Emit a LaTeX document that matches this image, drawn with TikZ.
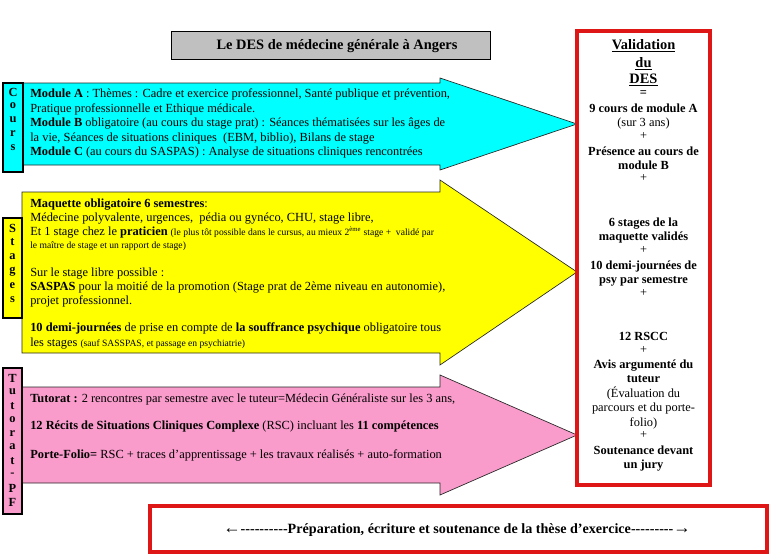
\documentclass[tikz,border=0pt]{standalone}
\usepackage{fontspec}
\setmainfont{Liberation Serif}
\definecolor{cyanA}{RGB}{0,255,255}
\definecolor{yelA}{RGB}{255,255,0}
\definecolor{pinkA}{RGB}{249,155,203}
\definecolor{redA}{RGB}{222,22,22}
\definecolor{grayA}{RGB}{192,192,192}
\newcommand{\nf}{\fontsize{9.3}{11}\selectfont}
\newcommand{\sm}{\fontsize{7.2}{9}\selectfont}
\newcommand{\hy}{-{}}
\begin{document}
\begin{tikzpicture}[x=0.75pt,y=-0.75pt,
  arrowshape/.style={draw=black!85, line width=0.5pt},
  labbox/.style={draw=black, line width=0.8pt},
  lett/.style={inner sep=0pt, font=\bfseries\nf},
  txt/.style={anchor=base west, inner sep=0pt, font=\nf},
  val/.style={anchor=base, inner sep=0pt, font=\bfseries\nf},
  valt/.style={anchor=base, inner sep=0pt, font=\bfseries\fontsize{10.8}{12}\selectfont},
  redbox/.style={draw=redA, line width=3pt}]
\useasboundingbox (0,0) rectangle (783,557);

% title
\draw[fill=grayA, draw=black, line width=0.6pt] (171,31) rectangle (490,59);
\node[anchor=base, inner sep=0pt, font=\bfseries\fontsize{10.8}{12}\selectfont] (title) at (337,49) {Le DES de médecine générale à Angers};

% arrows
\draw[arrowshape, fill=cyanA] (22,83) -- (440,83) -- (440,78) -- (577,124) -- (440,170) -- (440,165) -- (22,165) -- cycle;
\draw[arrowshape, fill=yelA] (22,192) -- (440,192) -- (440,180) -- (577,272) -- (440,365) -- (440,353) -- (22,353) -- cycle;
\draw[arrowshape, fill=pinkA] (22,387) -- (440,387) -- (440,375) -- (577,435) -- (440,495) -- (440,483) -- (22,483) -- cycle;

% side labels
\draw[labbox, fill=cyanA] (3,83) rectangle (23,172);
\foreach \l [count=\i from 0] in {C,o,u,r,s}
  \node[lett] (cl\i) at (13,{92+14*\i}) {\l};
\draw[labbox, fill=yelA] (3,218) rectangle (22,318);
\foreach \l [count=\i from 0] in {S,t,a,g,e,s}
  \node[lett] (sl\i) at (12.5,{228+14.4*\i}) {\l};
\draw[labbox, fill=pinkA] (3,368) rectangle (22,514);
\foreach \l [count=\i from 0] in {T,u,t,o,r,a,t,-,P,F}
  \node[lett] (tl\i) at (12.5,{378+13.8*\i}) {\l};

% cyan text
\node[txt] (c1) at (30,97.5) {\textbf{Module A} : Thèmes : Cadre et exercice professionnel, Santé publique et prévention,};
\node[txt] (c2) at (30,112) {Pratique professionnelle et Ethique médicale.};
\node[txt] (c3) at (30,126.5) {\textbf{Module B} obligatoire (au cours du stage prat) : Séances thématisées sur les âges de};
\node[txt] (c4) at (30,141) {la vie, Séances de situations cliniques\ \ (EBM, biblio), Bilans de stage};
\node[txt] (c5) at (30,155.5) {\textbf{Module C} (au cours du SASPAS) : Analyse de situations cliniques rencontrées};

% yellow text
\node[txt] (y1) at (30,207.5) {\textbf{Maquette obligatoire 6 semestres}:};
\node[txt] (y2) at (30,221.5) {Médecine polyvalente, urgences,\ \ pédia ou gynéco, CHU, stage libre,};
\node[txt] (y3) at (30,235.5) {Et 1 stage chez le \textbf{praticien} {\sm(le plus tôt possible dans le cursus, au mieux 2\textsuperscript{ème} stage +\ \ validé par}};
\node[txt, font=\sm] (y4) at (30,248.5) {le maître de stage et un rapport de stage)};
\node[txt] (y5) at (30,276.5) {Sur le stage libre possible :};
\node[txt] (y6) at (30,290.5) {\textbf{SASPAS} pour la moitié de la promotion (Stage prat de 2ème niveau en autonomie),};
\node[txt] (y7) at (30,304.5) {projet professionnel.};
\node[txt] (y8) at (30,331.5) {\textbf{10 demi-journées} de prise en compte de \textbf{la souffrance psychique} obligatoire tous};
\node[txt] (y9) at (30,346.5) {les stages {\sm(sauf SASSPAS, et passage en psychiatrie)}};

% pink text
\node[txt] (p1) at (30,402.5) {\textbf{Tutorat :} 2 rencontres par semestre avec le tuteur=Médecin Généraliste sur les 3 ans,};
\node[txt] (p2) at (30,429.5) {\textbf{12 Récits de Situations Cliniques Complexe} (RSC) incluant les \textbf{11 compétences}};
\node[txt] (p3) at (30,458.5) {\textbf{Porte-Folio=} RSC + traces d’apprentissage + les travaux réalisés + auto-formation};

% validation box
\draw[redbox] (577,31) rectangle (710,485);
\node[valt] (v1) at (643.5,49) {\underline{Validation}};
\node[valt] (v2) at (643.5,67) {\underline{du}};
\node[valt] (v3) at (643.5,83) {\underline{DES}};
\node[val] (v4) at (643.5,96) {=};
\node[val] (v5) at (643.5,112) {9 cours de module A};
\node[val, font=\nf] (v6) at (643.5,126) {(sur 3 ans)};
\node[val, font=\nf] (v7) at (643.5,139) {+};
\node[val] (v8) at (643.5,155) {Présence au cours de};
\node[val] (v9) at (643.5,169) {module B};
\node[val, font=\nf] (v10) at (643.5,181) {+};
\node[val] (v11) at (643.5,226) {6 stages de la};
\node[val] (v12) at (643.5,240) {maquette validés};
\node[val, font=\nf] (v13) at (643.5,253) {+};
\node[val] (v14) at (643.5,269) {10 demi-journées de};
\node[val] (v15) at (643.5,283) {psy par semestre};
\node[val, font=\nf] (v16) at (643.5,296) {+};
\node[val] (v17) at (643.5,340) {12 RSCC};
\node[val, font=\nf] (v18) at (643.5,353) {+};
\node[val] (v19) at (643.5,368) {Avis argumenté du};
\node[val] (v20) at (643.5,382) {tuteur};
\node[val, font=\nf] (v21) at (643.5,397) {(Évaluation du};
\node[val, font=\nf] (v22) at (643.5,411) {parcours et du porte-};
\node[val, font=\nf] (v23) at (643.5,426) {folio)};
\node[val, font=\nf] (v24) at (643.5,438) {+};
\node[val] (v25) at (643.5,454) {Soutenance devant};
\node[val] (v26) at (643.5,468) {un jury};

% bottom box
\draw[redbox] (150,506) rectangle (767,552);
\node[anchor=base, inner sep=0pt, font=\bfseries\fontsize{10.6}{12}\selectfont] (these) at (457,533) {{\fontsize{13}{12}\selectfont ←}\hy\hy\hy\hy\hy\hy\hy\hy\hy\hy Préparation, écriture et soutenance de la thèse d’exercice\hy\hy\hy\hy\hy\hy\hy\hy\hy{\fontsize{13}{12}\selectfont →}};
\end{tikzpicture}
\end{document}
